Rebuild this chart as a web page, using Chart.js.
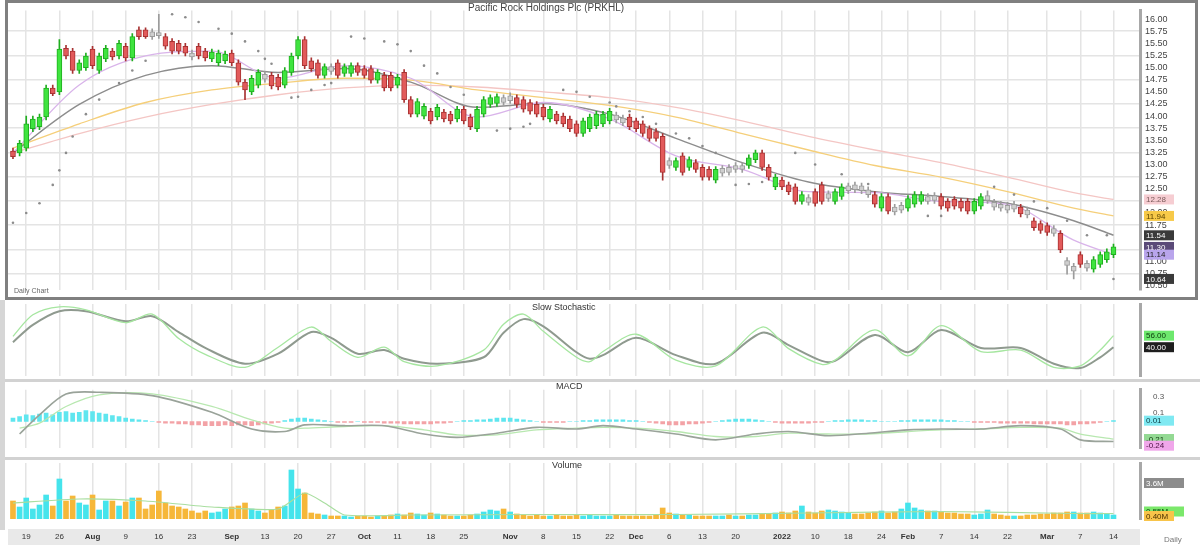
<!DOCTYPE html>
<html>
<head>
<meta charset="utf-8">
<script src="https://cdn.jsdelivr.net/npm/chart.js@4.4.1/dist/chart.umd.min.js"></script>
<style>
  body { margin: 0; background: #fff; font-family: "Liberation Sans", Arial, sans-serif; }
  #wrap { position: relative; width: 1200px; height: 549px; overflow: hidden; }
  canvas { position: absolute; left: 0; }
  .box { position: absolute; pointer-events: none; }
  .ttl { position: absolute; font-size: 9px; color: #333; white-space: nowrap; }
</style>
</head>
<body>
<div id="wrap">
  <div class="box" style="left:8px;top:529px;width:1132px;height:16px;background:#e9e9e9"></div>
  <canvas id="mainChart" width="1200" height="300" style="top:0"></canvas>
  <canvas id="stochChart" width="1200" height="80" style="top:300px"></canvas>
  <canvas id="macdChart" width="1200" height="78" style="top:380px"></canvas>
  <canvas id="volChart" width="1200" height="91" style="top:458px"></canvas>
  <div class="box" style="left:5px;top:0;width:1193px;height:300px;border:3px solid #808080;box-sizing:border-box"></div>
  <div class="box" style="left:0;top:379px;width:1200px;height:3px;background:#d2d2d2"></div>
  <div class="box" style="left:0;top:457px;width:1200px;height:3px;background:#d2d2d2"></div>
  <div class="box" style="left:0;top:300px;width:5px;height:230px;background:#d6d6d6"></div>
  <div class="ttl" style="left:468px;top:2px;font-size:10px;color:#444">Pacific Rock Holdings Plc (PRKHL)</div>
  <div class="ttl" style="left:14px;top:287px;font-size:7px;color:#666">Daily Chart</div>
  <div class="ttl" style="left:532px;top:302px">Slow Stochastic</div>
  <div class="ttl" style="left:556px;top:381px">MACD</div>
  <div class="ttl" style="left:552px;top:460px">Volume</div>
  <div class="ttl" style="left:1164px;top:535px;font-size:8px;color:#777">Daily</div>
</div>
<script>
// price candles, one per trading day
const opens = [13.28,13.24,13.34,13.74,13.78,13.98,14.58,14.50,15.40,15.34,
  14.94,15.00,15.38,14.94,15.18,15.34,15.24,15.44,15.20,15.78,
  15.78,15.74,15.72,15.64,15.54,15.50,15.44,15.30,15.44,15.34,
  15.18,15.10,15.14,15.30,15.10,14.70,14.50,14.64,14.86,14.84,
  14.80,14.64,14.90,15.24,15.58,15.14,15.10,14.84,15.02,15.10,
  14.88,14.88,15.04,14.98,14.98,14.74,14.84,14.84,14.64,14.90,
  14.34,14.04,14.00,14.10,13.98,14.08,14.04,13.94,14.14,13.98,
  13.74,14.04,14.24,14.26,14.38,14.32,14.38,14.34,14.28,14.24,
  14.18,13.94,14.04,14.00,13.94,13.84,13.64,13.74,13.80,13.84,
  13.90,14.02,13.96,13.98,13.90,13.84,13.74,13.68,13.58,13.08,
  12.94,13.18,12.94,13.04,12.94,12.90,12.68,12.82,12.94,12.90,
  12.98,12.98,13.10,13.24,12.94,12.54,12.68,12.58,12.54,12.24,
  12.32,12.44,12.58,12.30,12.24,12.34,12.46,12.58,12.56,12.48,
  12.38,12.10,12.34,12.12,12.06,12.10,12.18,12.24,12.34,12.26,
  12.34,12.24,12.28,12.24,12.24,12.04,12.14,12.26,12.22,12.18,
  12.16,12.08,12.12,12.06,11.84,11.78,11.74,11.68,11.58,11.02,
  10.80,11.14,10.96,10.84,10.94,11.04,11.14];
const closes = [13.16,13.44,13.84,13.94,13.98,14.58,14.46,15.38,15.24,14.94,
  15.10,15.24,15.04,15.24,15.40,15.22,15.50,15.20,15.64,15.64,
  15.64,15.64,15.66,15.44,15.34,15.34,15.30,15.22,15.24,15.20,
  15.32,15.30,15.28,15.10,14.70,14.54,14.78,14.90,14.76,14.62,
  14.60,14.94,15.24,15.58,15.04,14.98,14.84,15.02,14.92,14.84,
  15.02,15.04,14.90,14.84,14.74,14.90,14.58,14.58,14.80,14.34,
  14.04,14.30,14.20,13.90,14.18,13.94,13.90,14.14,13.90,13.78,
  14.14,14.34,14.38,14.40,14.28,14.42,14.24,14.14,14.10,14.04,
  13.98,14.14,13.90,13.84,13.74,13.64,13.90,13.98,14.04,14.04,
  14.10,13.92,13.86,13.78,13.74,13.64,13.54,13.54,12.84,12.98,
  13.08,12.84,13.10,12.90,12.74,12.74,12.90,12.92,12.84,12.98,
  12.90,13.14,13.24,12.94,12.74,12.74,12.54,12.44,12.24,12.38,
  12.22,12.20,12.24,12.40,12.44,12.54,12.56,12.48,12.46,12.38,
  12.18,12.34,12.04,12.02,12.16,12.30,12.38,12.38,12.24,12.36,
  12.14,12.10,12.14,12.10,12.04,12.24,12.34,12.36,12.12,12.10,
  12.06,12.18,11.98,11.96,11.70,11.64,11.60,11.58,11.24,10.92,
  10.90,10.94,10.86,11.04,11.14,11.20,11.30];
const highs = [13.34,13.50,14.00,14.00,14.04,14.64,14.64,15.58,15.46,15.40,
  15.16,15.30,15.44,15.30,15.46,15.40,15.56,15.50,15.70,15.84,
  15.82,15.80,16.10,15.70,15.60,15.56,15.50,15.36,15.50,15.40,
  15.38,15.36,15.34,15.36,15.16,14.76,14.84,14.96,14.92,14.90,
  14.86,15.00,15.30,15.64,15.64,15.20,15.16,15.08,15.08,15.16,
  15.08,15.10,15.10,15.04,15.04,14.96,14.90,14.90,14.86,14.96,
  14.40,14.36,14.26,14.16,14.24,14.14,14.10,14.20,14.20,14.04,
  14.20,14.40,14.44,14.46,14.44,14.48,14.44,14.40,14.34,14.30,
  14.24,14.20,14.10,14.06,14.00,13.90,13.96,14.04,14.10,14.10,
  14.16,14.08,14.02,14.04,13.96,13.90,13.80,13.74,13.64,13.14,
  13.14,13.24,13.16,13.10,13.00,12.96,12.96,12.98,13.00,13.04,
  13.04,13.20,13.30,13.30,13.00,12.80,12.74,12.64,12.60,12.44,
  12.38,12.50,12.64,12.46,12.50,12.60,12.62,12.64,12.62,12.54,
  12.44,12.40,12.40,12.18,12.22,12.36,12.44,12.44,12.40,12.42,
  12.40,12.30,12.34,12.30,12.30,12.30,12.40,12.46,12.28,12.24,
  12.22,12.24,12.18,12.12,11.90,11.84,11.80,11.74,11.64,11.08,
  10.96,11.20,11.02,11.10,11.20,11.26,11.36];
const lows = [13.12,13.18,13.28,13.68,13.72,13.92,14.42,14.44,15.18,14.88,
  14.88,14.94,14.98,14.88,15.12,15.16,15.18,15.14,15.14,15.58,
  15.60,15.58,15.60,15.38,15.28,15.28,15.24,15.16,15.18,15.14,
  15.12,15.04,15.08,15.04,14.64,14.34,14.44,14.58,14.70,14.56,
  14.54,14.58,14.84,15.18,14.98,14.92,14.78,14.78,14.86,14.78,
  14.82,14.82,14.84,14.78,14.68,14.68,14.52,14.52,14.58,14.28,
  13.98,13.98,13.94,13.84,13.92,13.88,13.84,13.88,13.84,13.72,
  13.68,13.98,14.18,14.20,14.22,14.26,14.18,14.08,14.04,13.98,
  13.92,13.88,13.84,13.78,13.68,13.58,13.58,13.68,13.74,13.78,
  13.84,13.86,13.80,13.72,13.68,13.58,13.48,13.48,12.68,12.92,
  12.88,12.78,12.88,12.84,12.68,12.68,12.62,12.76,12.78,12.84,
  12.84,12.92,13.04,12.88,12.68,12.48,12.48,12.38,12.18,12.18,
  12.16,12.14,12.18,12.24,12.18,12.28,12.40,12.42,12.40,12.32,
  12.12,12.04,11.98,11.96,12.00,12.04,12.12,12.18,12.18,12.20,
  12.08,12.04,12.08,12.04,11.98,11.98,12.08,12.20,12.06,12.04,
  12.00,12.02,11.92,11.90,11.64,11.58,11.54,11.52,11.18,10.74,
  10.64,10.88,10.80,10.78,10.88,10.98,11.08];

// moving averages, read at every 10th day
const maIdx = [0,10,20,30,40,50,60,70,80,90,100,110,120,130,140,150,160,166];
const maFast = [13.24,14.64,15.24,15.34,14.78,15.04,14.78,13.98,14.28,13.94,13.18,12.90,12.44,12.42,12.24,12.18,11.44,11.14];
const maMid = [13.24,14.24,14.84,15.04,14.90,14.98,14.70,14.18,14.26,14.04,13.54,13.04,12.64,12.44,12.34,12.20,11.84,11.54];
const maLong = [13.34,13.84,14.28,14.54,14.68,14.78,14.74,14.54,14.38,14.22,13.98,13.64,13.30,12.98,12.74,12.44,12.10,11.94];
const maSlow = [13.24,13.64,13.98,14.24,14.44,14.58,14.64,14.60,14.50,14.38,14.18,13.90,13.58,13.30,13.04,12.74,12.42,12.28];

// parabolic SAR dots
const sarIdx = [0,2,4,6,7,8,9,11,13,16,18,20, 24,26,28,31,33,35,37,38,39, 42,43,45,47,48,
  51,53,56,58,60,62,64,66,68, 73,75,77,78, 83,85,87,90,91,93,95,97, 100,102,104,106,
  109,111,113, 118,121,125,129, 138,140, 148,151,154,156,159,162,165,166];
const sarVal = [11.80,12.00,12.20,12.58,12.88,13.24,13.58,14.04,14.34,14.68,14.94,15.14,
  16.10,16.04,15.94,15.80,15.70,15.54,15.34,15.18,15.08, 14.38,14.40,14.54,14.64,14.68,
  15.64,15.60,15.54,15.48,15.34,15.04,14.88,14.60,14.44, 13.70,13.74,13.78,13.84,
  14.54,14.50,14.40,14.28,14.20,14.10,13.98,13.84, 13.64,13.54,13.38,13.24,
  12.58,12.60,12.64, 13.24,13.00,12.80,12.60, 11.94,11.94,
  12.54,12.38,12.24,12.10,11.84,11.54,11.54,10.64];

// slow stochastic
const stochIdx = [0,3,7,11,17,21,25,29,35,40,45,48,52,56,59,64,71,74,77,80,85,87,89,94,100,106,113,117,122,124,130,135,140,146,152,157,161,164,166];
const stochK = [55,85,96,92,74,86,52,30,12,40,68,48,26,40,20,14,36,72,86,62,26,20,34,58,22,14,68,38,16,22,64,28,70,34,36,12,14,36,56];
const stochD = [47,71,90,90,76,83,61,39,17,31,61,53,31,36,24,17,26,60,79,69,33,24,29,53,29,17,60,43,21,21,57,33,64,39,39,17,11,26,40];

// MACD
const macdIdx = [1,4,8,13,21,30,36,41,44,50,56,62,67,73,79,85,89,94,100,106,112,117,123,129,135,140,146,152,158,161,166];
const macdLine = [-0.15,0.08,0.33,0.35,0.31,0.11,-0.09,-0.12,-0.04,-0.05,-0.05,-0.15,-0.19,-0.14,-0.07,-0.09,-0.05,-0.09,-0.15,-0.22,-0.15,-0.12,-0.17,-0.14,-0.10,-0.09,-0.09,-0.05,-0.09,-0.22,-0.24];
const macdSignal = [-0.08,-0.02,0.18,0.32,0.33,0.18,0.02,-0.08,-0.08,-0.06,-0.05,-0.10,-0.16,-0.16,-0.10,-0.08,-0.07,-0.08,-0.12,-0.18,-0.18,-0.14,-0.15,-0.15,-0.12,-0.10,-0.09,-0.07,-0.08,-0.15,-0.21];
const macdHist = [0.04,0.06,0.08,0.07,0.09,0.10,0.08,0.11,0.12,0.10,
  0.11,0.13,0.12,0.10,0.09,0.07,0.06,0.04,0.03,0.02,
  0.01,0.00,-0.01,-0.02,-0.02,-0.03,-0.03,-0.04,-0.04,-0.05,
  -0.05,-0.05,-0.04,-0.05,-0.04,-0.04,-0.05,-0.04,-0.03,-0.02,
  -0.01,0.01,0.03,0.04,0.04,0.03,0.02,0.01,0.00,-0.01,
  -0.01,-0.01,0.00,-0.01,-0.01,-0.01,-0.02,-0.02,-0.02,-0.03,
  -0.03,-0.03,-0.03,-0.03,-0.02,-0.02,-0.01,0.00,0.01,0.01,
  0.02,0.02,0.03,0.04,0.04,0.04,0.03,0.02,0.01,0.00,
  -0.01,-0.01,-0.01,-0.01,0.00,0.00,0.01,0.01,0.02,0.02,
  0.02,0.02,0.02,0.01,0.01,0.00,-0.01,-0.02,-0.03,-0.04,
  -0.04,-0.04,-0.03,-0.03,-0.02,-0.01,0.00,0.01,0.02,0.03,
  0.03,0.03,0.02,0.01,0.00,-0.01,-0.02,-0.02,-0.02,-0.02,
  -0.02,-0.01,-0.01,0.00,0.01,0.01,0.02,0.02,0.02,0.01,
  0.01,0.00,0.00,0.00,0.01,0.01,0.02,0.02,0.02,0.02,
  0.02,0.01,0.01,0.00,0.00,-0.01,-0.01,-0.01,-0.01,-0.02,
  -0.02,-0.02,-0.02,-0.02,-0.03,-0.03,-0.03,-0.03,-0.03,-0.04,
  -0.04,-0.03,-0.03,-0.02,-0.01,0.00,0.01];

// volume (millions) and its average
const volume = [1.8,1.2,2.1,1.0,1.4,2.4,1.3,4.0,1.8,2.3,
  1.6,1.4,2.4,0.9,1.8,1.8,1.3,1.7,2.1,2.1,
  1.0,1.4,2.8,1.6,1.3,1.2,1.0,0.8,0.6,0.8,
  0.6,0.7,1.0,1.2,1.3,1.6,1.0,0.8,0.6,0.9,
  1.2,1.3,4.9,3.0,2.6,0.6,0.5,0.4,0.3,0.3,
  0.3,0.2,0.3,0.3,0.2,0.3,0.3,0.4,0.5,0.4,
  0.6,0.5,0.4,0.6,0.5,0.4,0.3,0.3,0.3,0.4,
  0.5,0.7,0.9,0.8,1.0,0.7,0.5,0.4,0.3,0.4,
  0.3,0.3,0.4,0.3,0.3,0.4,0.3,0.4,0.3,0.3,
  0.3,0.4,0.3,0.3,0.3,0.3,0.3,0.4,1.1,0.6,
  0.5,0.4,0.4,0.3,0.3,0.3,0.3,0.3,0.4,0.3,
  0.3,0.4,0.4,0.5,0.5,0.6,0.7,0.6,0.8,1.3,
  0.7,0.6,0.8,0.9,0.8,0.7,0.6,0.5,0.5,0.6,
  0.7,0.8,0.6,0.7,1.0,1.6,1.1,0.9,0.8,0.8,
  0.7,0.6,0.6,0.5,0.5,0.4,0.5,0.9,0.5,0.4,
  0.3,0.3,0.3,0.4,0.4,0.5,0.5,0.6,0.6,0.7,
  0.7,0.6,0.6,0.7,0.6,0.5,0.4];
const volMaIdx = [0,10,20,30,40,44,47,50,60,80,100,120,140,160,166];
const volMa = [1.6,2.0,1.8,1.2,1.0,2.6,1.6,0.4,0.4,0.45,0.45,0.6,0.75,0.55,0.55];

// date axis
const tickIdx = [2,7,12,17,22,27,33,38,43,48,53,58,63,68,75,80,85,90,94,99,104,109,116,121,126,131,135,140,145,150,156,161,166];
const tickText = ['19','26','Aug','9','16','23','Sep','13','20','27','Oct','11','18','25','Nov','8','15','22','Dec','6','13','20','2022','10','18','24','Feb','7','14','22','Mar','7','14'];

Chart.defaults.font.family = '"Liberation Sans", Arial, sans-serif';
Chart.defaults.font.size = 9;
Chart.defaults.animation = false;
Chart.defaults.plugins.legend.display = false;
Chart.defaults.plugins.tooltip.enabled = false;

const GRID = '#e4e4e4';

function pts(idx, vals) {
    return idx.map((x, i) => ({ x: x, y: vals[i] }));
}

function candleColor(i) {
    const d = closes[i] - opens[i];
    if (Math.abs(d) < 0.11) return ['#cfcfcf', '#9c9c9c'];
    return d > 0 ? ['#3fe43f', '#1fae1f'] : ['#e25a5a', '#a83232'];
}

function xScale(showLabels) {
    return {
        type: 'linear', min: -0.75, max: 170, offset: false,
        afterBuildTicks: axis => { axis.ticks = tickIdx.map(v => ({ value: v })); },
        afterFit: s => { s.height = showLabels ? 30 : 0; },
        grid: { color: GRID, lineWidth: 1.5, drawTicks: false, offset: false },
        border: { display: false },
        ticks: {
            display: showLabels, autoSkip: false, maxRotation: 0, padding: 13, color: '#333',
            callback: (v, i) => tickText[i],
            font: ctx => ({ size: 8, weight: tickText[ctx.index] && tickText[ctx.index].length > 2 ? 'bold' : 'normal' })
        }
    };
}

function rightAxis(extra) {
    return Object.assign({
        position: 'right',
        afterFit: s => { s.width = 60; },
        border: { color: '#a8a8a8', width: 3 },
        grid: { display: false },
        ticks: { display: false }
    }, extra);
}

// boxes on the right axis showing the last value of a series
function markers(id, items) {
    return {
        id: id,
        afterDatasetsDraw(chart) {
            const ctx = chart.ctx;
            const ys = chart.scales.y;
            const x0 = chart.chartArea.right + 4;
            ctx.save();
            ctx.font = '8px "Liberation Sans", Arial, sans-serif';
            ctx.textBaseline = 'middle';
            items.forEach(m => {
                const py = ys.getPixelForValue(m.value);
                ctx.fillStyle = m.fill;
                ctx.fillRect(x0, py - 5, m.w || 30, 10);
                ctx.fillStyle = m.text;
                ctx.fillText(m.label || m.value.toFixed(2), x0 + 2, py + 0.5);
            });
            ctx.restore();
        }
    };
}

const last = a => a[a.length - 1];
const pad = { left: 8, right: 0 };

// Main price panel
new Chart(document.getElementById('mainChart'), {
    type: 'bar',
    data: {
        datasets: [
            {
                data: opens.map((o, i) => ({ x: i, y: [o, closes[i]] })),
                backgroundColor: opens.map((o, i) => candleColor(i)[0]),
                borderColor: opens.map((o, i) => candleColor(i)[1]),
                borderWidth: 1, borderSkipped: false,
                barThickness: 5, grouped: false
            },
            {
                data: lows.map((l, i) => ({ x: i, y: [l, highs[i]] })),
                backgroundColor: opens.map((o, i) => candleColor(i)[1]),
                barThickness: 1, grouped: false
            },
            { type: 'line', data: pts(sarIdx, sarVal), showLine: false, pointRadius: 1.3, pointBorderWidth: 0, pointBackgroundColor: '#8c8c8c' },
            { type: 'line', data: pts(maIdx, maFast), borderColor: '#d9b4ea', borderWidth: 1.3, pointRadius: 0, cubicInterpolationMode: 'monotone' },
            { type: 'line', data: pts(maIdx, maMid), borderColor: '#8d8d8d', borderWidth: 1.5, pointRadius: 0, cubicInterpolationMode: 'monotone' },
            { type: 'line', data: pts(maIdx, maLong), borderColor: '#f5cf7a', borderWidth: 1.3, pointRadius: 0, cubicInterpolationMode: 'monotone' },
            { type: 'line', data: pts(maIdx, maSlow), borderColor: '#f4c6c4', borderWidth: 1.3, pointRadius: 0, cubicInterpolationMode: 'monotone' }
        ]
    },
    options: {
        responsive: false,
        layout: { padding: { left: 8, right: 0, top: 8, bottom: 4 } },
        scales: {
            x: xScale(false),
            y: rightAxis({
                min: 10.42, max: 16.18,
                grid: { display: true, drawTicks: false, lineWidth: 1.5,
                    color: ctx => Math.round(ctx.tick.value * 4) % 2 === 1 ? GRID : 'transparent' },
                ticks: { display: true, stepSize: 0.25, includeBounds: false, autoSkip: false, padding: 5,
                    color: '#444', font: { size: 9 }, callback: v => v.toFixed(2) }
            })
        }
    },
    plugins: [markers('mainMarkers', [
        { value: last(maSlow), fill: '#f6cdd2', text: '#7a5a5a' },
        { value: last(maLong), fill: '#f7c948', text: '#5a4300' },
        { value: last(maMid), fill: '#3a3a3a', text: '#fff' },
        { value: last(closes), fill: '#5a4a78', text: '#fff' },
        { value: last(maFast), fill: '#b9a5ec', text: '#222' },
        { value: last(sarVal), fill: '#3a3a3a', text: '#fff' }
    ])]
});

// Slow stochastic panel
new Chart(document.getElementById('stochChart'), {
    type: 'line',
    data: {
        datasets: [
            { data: pts(stochIdx, stochK), borderColor: '#a6e6a0', borderWidth: 1.3, pointRadius: 0, tension: 0.3 },
            { data: pts(stochIdx, stochD), borderColor: '#8f9a8f', borderWidth: 2, pointRadius: 0, tension: 0.3 }
        ]
    },
    options: {
        responsive: false,
        layout: { padding: { left: 8, right: 0, top: 4, bottom: 4 } },
        scales: { x: xScale(false), y: rightAxis({ min: 0, max: 100 }) }
    },
    plugins: [markers('stochMarkers', [
        { value: last(stochK), fill: '#6de86d', text: '#0a3a0a', label: last(stochK).toFixed(2) },
        { value: last(stochD), fill: '#1e1e1e', text: '#fff', label: last(stochD).toFixed(2) }
    ])]
});

// MACD panel
new Chart(document.getElementById('macdChart'), {
    type: 'bar',
    data: {
        datasets: [
            { type: 'line', data: pts(macdIdx, macdLine), borderColor: '#9aa39a', borderWidth: 1.6, pointRadius: 0, tension: 0.3 },
            { type: 'line', data: pts(macdIdx, macdSignal), borderColor: '#b8e8b0', borderWidth: 1.3, pointRadius: 0, tension: 0.3 },
            {
                data: macdHist.map((v, i) => ({ x: i, y: v })),
                backgroundColor: macdHist.map(v => v >= 0 ? '#5fe6ef' : '#f3a2a6'),
                barThickness: 4, grouped: false
            }
        ]
    },
    options: {
        responsive: false,
        layout: { padding: { left: 8, right: 0, top: 5, bottom: 3 } },
        scales: {
            x: xScale(false),
            y: rightAxis({ min: -0.32, max: 0.38,
                afterBuildTicks: axis => { axis.ticks = [{ value: 0.3 }, { value: 0.1 }]; },
                ticks: { display: true, padding: 5, color: '#555', font: { size: 8 }, callback: v => v.toFixed(1) } })
        }
    },
    plugins: [markers('macdMarkers', [
        { value: last(macdHist), fill: '#7fe9f2', text: '#104048' },
        { value: last(macdSignal), fill: '#93d993', text: '#103810' },
        { value: last(macdLine) - 0.05, fill: '#f0a6ea', text: '#4a1040', label: last(macdLine).toFixed(2) }
    ])]
});

// Volume panel
new Chart(document.getElementById('volChart'), {
    type: 'bar',
    data: {
        datasets: [
            { type: 'line', data: pts(volMaIdx, volMa), borderColor: '#a9dea0', borderWidth: 1.2, pointRadius: 0, tension: 0.2 },
            {
                data: volume.map((v, i) => ({ x: i, y: v })),
                backgroundColor: volume.map((v, i) => closes[i] >= opens[i] ? '#45e4ec' : '#f6b739'),
                barThickness: 5, grouped: false
            }
        ]
    },
    options: {
        responsive: false,
        layout: { padding: { left: 8, right: 0, top: 5, bottom: 0 } },
        scales: {
            x: xScale(true),
            y: rightAxis({ min: 0, max: 5.6 })
        }
    },
    plugins: [markers('volMarkers', [
        { value: 3.6, fill: '#8c8c8c', text: '#fff', label: '3.6M', w: 40 },
        { value: last(volMa) + 0.2, fill: '#7be86b', text: '#0a3a0a', label: last(volMa).toFixed(2) + 'M', w: 40 },
        { value: last(volume) - 0.1, fill: '#f8c44a', text: '#4a3000', label: last(volume).toFixed(2) + 'M' }
    ])]
});
</script>
</body>
</html>
